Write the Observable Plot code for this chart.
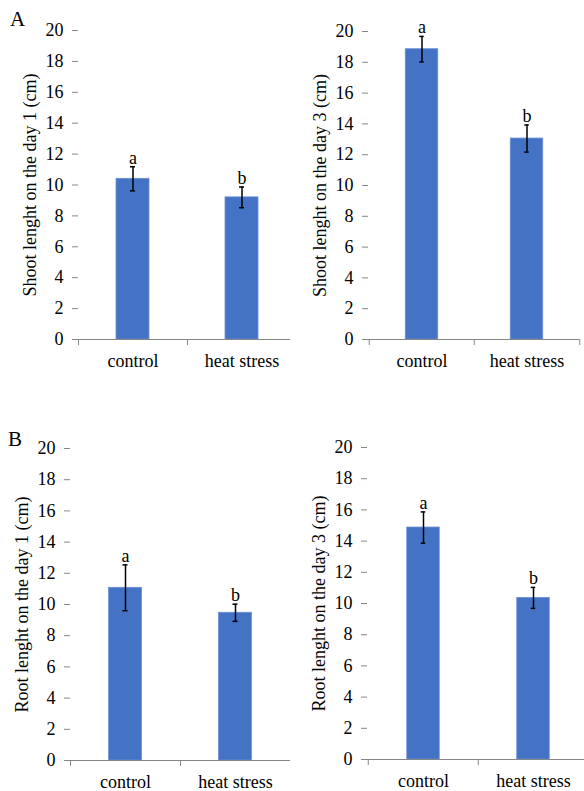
<!DOCTYPE html>
<html>
<head>
<meta charset="utf-8">
<script src="https://cdn.jsdelivr.net/npm/d3@7"></script>
<script src="https://cdn.jsdelivr.net/npm/@observablehq/plot@0.6"></script>
<style>
  html, body { margin: 0; padding: 0; background: #fff; overflow: hidden; }
  #root { position: relative; width: 584px; height: 791px; overflow: hidden; background: #fff;
          font-family: "Liberation Serif", "Times New Roman", serif; color: #000; }
  .panel { position: absolute; overflow: hidden; }
  .panel svg { max-width: none !important; }
  .panel svg text { font-family: "Liberation Serif", "Times New Roman", serif !important; font-size: 18px !important; font-variant: normal !important; }
  .tag { position: absolute; font-size: 21px; line-height: 1; }
</style>
</head>
<body>
<div id="root"></div>
<script>
// ---- data ----
const categories = ["control", "heat stress"];
const sigLetters = ["a", "b"];
const yTicks = [0, 2, 4, 6, 8, 10, 12, 14, 16, 18, 20];

const shootDay1 = [10.4, 9.2];
const shootDay1Err = [0.78, 0.67];
const shootDay3 = [18.85, 13.05];
const shootDay3Err = [0.83, 0.88];
const rootDay1 = [11.07, 9.47];
const rootDay1Err = [1.47, 0.55];
const rootDay3 = [14.87, 10.36];
const rootDay3Err = [1.0, 0.67];

const root = document.getElementById("root");
const FONT = '"Liberation Serif", "Times New Roman", serif';
const FS = 18;

function makePanel({values, errors, label, left, top, clipWidth, width, height, marginLeft, marginRight, marginTop, marginBottom}) {
  const bw = (width - marginLeft - marginRight) / categories.length;
  const barW = 33;
  const capW = 5;
  const data = categories.map((c, i) => ({cat: c, v: values[i], e: errors[i], letter: sigLetters[i]}));
  const axisColor = "#868686";
  const chart = Plot.plot({
    width, height, marginLeft, marginRight, marginTop, marginBottom,
    style: {fontFamily: FONT, fontSize: FS + "px", color: "#000", background: "transparent", overflow: "visible", maxWidth: "none"},
    x: {domain: categories, padding: 0, axis: null},
    y: {domain: [0, 20], axis: null},
    marks: [
      Plot.barY(data, {x: "cat", y: "v", fill: "#4472C4", stroke: "#6d90d3", strokeWidth: 0.8,
        insetLeft: (bw - barW) / 2, insetRight: (bw - barW) / 2}),
      Plot.ruleX(data, {x: "cat", y1: d => d.v - d.e, y2: d => d.v + d.e, stroke: "#000", strokeWidth: 1.5}),
      Plot.tickY(data, {x: "cat", y: d => d.v + d.e, stroke: "#000", strokeWidth: 1.5,
        insetLeft: bw / 2 - capW / 2, insetRight: bw / 2 - capW / 2}),
      Plot.tickY(data, {x: "cat", y: d => d.v - d.e, stroke: "#000", strokeWidth: 1.5,
        insetLeft: bw / 2 - capW / 2, insetRight: bw / 2 - capW / 2}),
      Plot.text(data, {x: "cat", y: d => d.v + d.e, text: "letter", lineAnchor: "bottom", dy: -3, fontSize: FS, fontFamily: FONT}),
      Plot.ruleY([0], {stroke: axisColor, strokeWidth: 1}),
      Plot.axisY({ticks: yTicks, tickSize: 6, tickPadding: 9, stroke: axisColor, label: null, fontSize: FS, fontFamily: FONT, line: true}),
      Plot.axisX({tickSize: 0, tickPadding: 15, label: null, fontSize: FS, fontFamily: FONT}),
      Plot.axisX(categories, {tickSize: 6, text: null, dx: -bw / 2, stroke: axisColor, label: null}),
      Plot.axisX([categories[categories.length - 1]], {tickSize: 6, text: null, dx: bw / 2, stroke: axisColor, label: null}),
      Plot.text([label], {frameAnchor: "left", textAnchor: "middle", rotate: -90, dx: -48, fontSize: FS, fontFamily: FONT})
    ]
  });
  chart.style.maxWidth = "none";
  const div = document.createElement("div");
  div.className = "panel";
  div.style.left = left + "px";
  div.style.top = top + "px";
  div.style.width = clipWidth + "px";
  div.style.height = height + "px";
  div.appendChild(chart);
  root.appendChild(div);
}

makePanel({values: shootDay1, errors: shootDay1Err, label: "Shoot lenght on the day 1 (cm)",
  left: 0, top: 0, clipWidth: 290, width: 296, height: 375, marginLeft: 78, marginRight: 0, marginTop: 30, marginBottom: 36});
makePanel({values: shootDay3, errors: shootDay3Err, label: "Shoot lenght on the day 3 (cm)",
  left: 296, top: 0, clipWidth: 288, width: 288, height: 375, marginLeft: 72, marginRight: 5, marginTop: 31, marginBottom: 36});
makePanel({values: rootDay1, errors: rootDay1Err, label: "Root lenght on the day 1 (cm)",
  left: 0, top: 400, clipWidth: 290, width: 290, height: 391, marginLeft: 70, marginRight: 0, marginTop: 48, marginBottom: 31});
makePanel({values: rootDay3, errors: rootDay3Err, label: "Root lenght on the day 3 (cm)",
  left: 290, top: 400, clipWidth: 294, width: 298, height: 391, marginLeft: 77, marginRight: 0, marginTop: 47, marginBottom: 32});

const tagA = document.createElement("div");
tagA.className = "tag"; tagA.textContent = "A";
tagA.style.left = "10px"; tagA.style.top = "9px";
root.appendChild(tagA);
const tagB = document.createElement("div");
tagB.className = "tag"; tagB.textContent = "B";
tagB.style.left = "8px"; tagB.style.top = "429px";
root.appendChild(tagB);
</script>
</body>
</html>
